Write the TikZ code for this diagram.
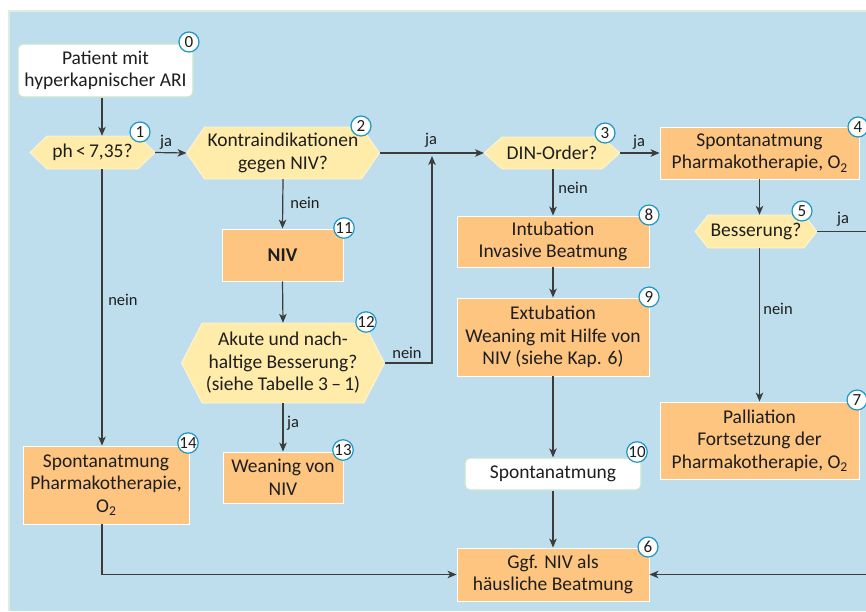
\documentclass[tikz,border=0pt]{standalone}
\usepackage{fontspec}
\setmainfont{Carlito}
\usetikzlibrary{arrows.meta}
\definecolor{bgblue}{RGB}{190,222,237}
\definecolor{bgedge}{RGB}{222,236,226}
\definecolor{boxorange}{RGB}{253,197,128}
\definecolor{hexyellow}{RGB}{255,236,170}
\definecolor{badgeblue}{RGB}{30,150,200}
\definecolor{startedge}{RGB}{200,230,205}
\definecolor{txt}{RGB}{30,30,30}
\definecolor{linec}{RGB}{60,60,60}
\newcommand{\Otwo}{O\raisebox{-0.35ex}{\fontsize{13.5}{13.5}\selectfont 2}}
\newcommand{\hexnode}[7]{%
  \fill[hexfill] ({#2-#4/2-#6},#3) -- ({#2-#4/2},{#3-#5/2}) -- ({#2+#4/2},{#3-#5/2}) -- ({#2+#4/2+#6},#3) -- ({#2+#4/2},{#3+#5/2}) -- ({#2-#4/2},{#3+#5/2}) -- cycle;
  \node[hexin, minimum width=#4pt, minimum height=#5pt] (#1) at (#2,#3) {#7};
  \coordinate (#1-w) at ({#2-#4/2-#6},#3);
  \coordinate (#1-e) at ({#2+#4/2+#6},#3);
}
\tikzset{
  maintext/.style={font=\fontsize{19.5}{22.5}\selectfont, text=txt, align=center},
  box/.style={maintext, rectangle, fill=boxorange, draw=white, line width=0.9pt, inner sep=0pt},
  startbox/.style={maintext, rectangle, rounded corners=5pt, fill=white, draw=startedge, line width=1.2pt, inner sep=0pt},
  hexin/.style={maintext, rectangle, inner sep=0pt},
  hexfill/.style={fill=hexyellow, draw=white!50!hexyellow, line width=0.8pt},
  badge/.style={circle, draw=badgeblue, fill=white, line width=1.2pt, minimum size=20pt, inner sep=0pt, font=\fontsize{17}{17}\selectfont, text=txt},
  lbl/.style={font=\fontsize{16.5}{16.5}\selectfont, text=txt, inner sep=0pt},
  conn/.style={draw=linec, line width=1.2pt},
  arr/.style={conn, -{Stealth[length=9pt,width=7.5pt,inset=2.5pt]}},
}
\begin{document}
\begin{tikzpicture}[x=1pt,y=-1pt]
\useasboundingbox (0,0) rectangle (866,611);
\clip (0,0) rectangle (866,611);
\fill[bgblue] (8,10) rectangle (866,611);
\draw[bgedge, line width=2pt] (9,611) -- (9,11) -- (866,11);

\coordinate (colA) at (102,0);
\coordinate (jn) at (432,156);

% nodes
\node[startbox, minimum width=175pt, minimum height=53pt] (n0) at (105.5,70.5) {Patient mit\\hyperkapnischer ARI};
\hexnode{n1}{92.5}{152.5}{91}{33}{17}{ph\,<\,7,35?}
\hexnode{n2}{283}{153}{157}{52}{18}{Kontraindikationen\\gegen NIV?}
\node[box, minimum width=121pt, minimum height=52pt] (n11) at (282.5,255) {\textbf{NIV}};
\hexnode{n12}{283}{363}{162}{80}{20.5}{Akute und nach-\\haltige Besserung?\\(siehe Tabelle 3\,–\,1)}
\node[box, minimum width=120pt, minimum height=51pt] (n13) at (283,477.5) {Weaning von\\NIV};
\node[box, minimum width=166pt, minimum height=78pt] (n14) at (106,485) {Spontanatmung\\Pharmakotherapie,\\\Otwo};
\hexnode{n3}{552}{153}{100}{32}{18}{DIN-Order?}
\node[box, minimum width=199pt, minimum height=52pt] (n4) at (759.5,153) {Spontanatmung\\Pharmakotherapie, \Otwo};
\hexnode{n5}{756}{231.5}{96}{33}{13}{Besserung?}
\node[box, minimum width=199pt, minimum height=77pt] (n7) at (759.5,440.5) {Palliation\\Fortsetzung der\\Pharmakotherapie, \Otwo};
\node[box, minimum width=192pt, minimum height=51pt] (n8) at (553,241.5) {Intubation\\Invasive Beatmung};
\node[box, minimum width=192pt, minimum height=78pt] (n9) at (553,337) {Extubation\\Weaning mit Hilfe von\\NIV (siehe Kap. 6)};
\node[startbox, minimum width=176pt, minimum height=32pt] (n10) at (553,474) {Spontanatmung};
\node[box, minimum width=192pt, minimum height=53pt] (n6) at (553,574.5) {Ggf. NIV als\\häusliche Beatmung};

% badges
\node[badge] (b0) at (189,42) {0};
\node[badge] (b1) at (140,132) {1};
\node[badge] (b2) at (361,126) {2};
\node[badge] (b3) at (605,133) {3};
\node[badge] (b4) at (858,127) {4};
\node[badge] (b5) at (802,211) {5};
\node[badge] (b6) at (648,547) {6};
\node[badge] (b7) at (857,400) {7};
\node[badge] (b8) at (649,215) {8};
\node[badge] (b9) at (649,297) {9};
\node[badge] (b10) at (637,452) {10};
\node[badge] (b11) at (344,228) {11};
\node[badge] (b12) at (366,322) {12};
\node[badge] (b13) at (343,450) {13};
\node[badge] (b14) at (188,443) {14};

% connectors
\draw[arr] (n0.south -| colA) -- (n1.north -| colA);
\draw[arr] (n1-e) -- (n2-w);
\draw[arr] (n1.south -| colA) -- (n14.north -| colA);
\draw[arr] (n2.south) -- (n11.north);
\draw[arr] (n2-e) -- (n3-w);
\draw[arr] (n11.south) -- (n12.north);
\draw[arr] (n12.south) -- (n13.north);
\draw[arr] (n12-e) -| (jn);
\draw[arr] (n3-e) -- (n4.west);
\draw[arr] (n3.south -| n8) -- (n8.north);
\draw[arr] (n8.south) -- (n9.north);
\draw[arr] (n9.south) -- (n10.north);
\draw[arr] (n10.south) -- (n6.north);
\draw[arr] (n4.south) -- (n4.south |- n5.north);
\draw[arr] (n4.south |- n5.south) -- (n7.north);
\draw[arr] (n5-e) -- (885,231.5) |- (n6.east);
\draw[arr] (n14.south -| colA) |- (n6.west);

% labels
\node[lbl] (l1) at (166,142) {ja};
\node[lbl] (l2) at (123,300) {nein};
\node[lbl] (l3) at (305,203) {nein};
\node[lbl] (l4) at (431,140) {ja};
\node[lbl] (l5) at (293,423) {ja};
\node[lbl] (l6) at (407,353) {nein};
\node[lbl] (l7) at (639,142) {ja};
\node[lbl] (l8) at (573,188) {nein};
\node[lbl] (l9) at (778,309) {nein};
\node[lbl] (l10) at (843,219) {ja};
\end{tikzpicture}
\end{document}
